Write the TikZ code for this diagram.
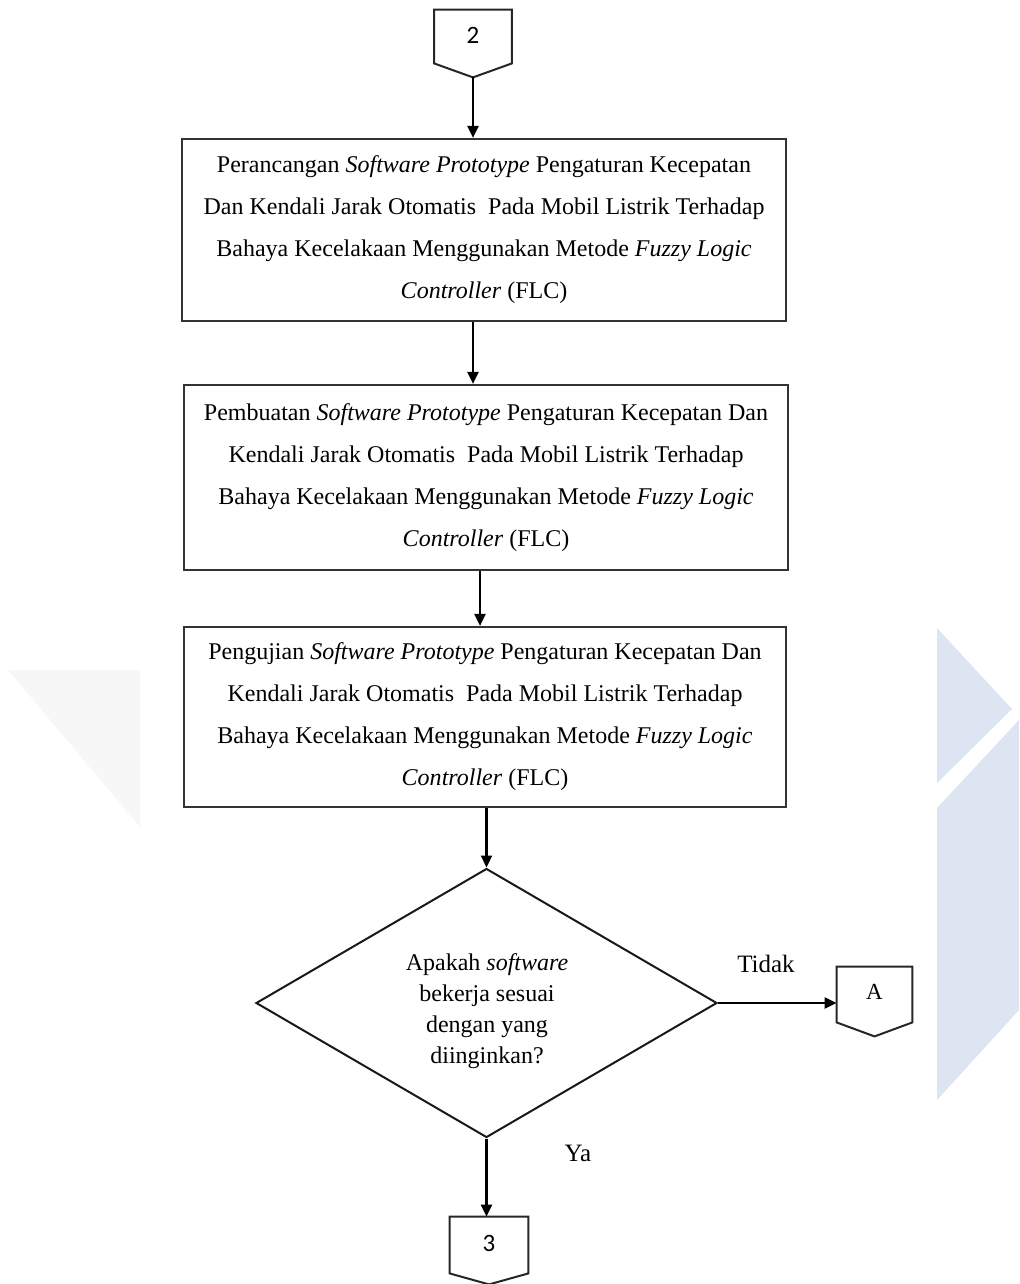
\documentclass[tikz,border=0pt]{standalone}
\usepackage{fontspec}
\setmainfont{Liberation Serif}
\newfontfamily\numfont{Carlito}
\usetikzlibrary{shapes.geometric,arrows.meta}

\begin{document}
\begin{tikzpicture}[x=0.5pt,y=-0.5pt,
  every node/.style={font=\fontsize{12}{21}\selectfont, text=black},
  procbox/.style={draw=black!80, line width=1.1pt, align=center, inner sep=0pt},
  decision/.style={diamond, aspect=1.7, draw=black!90, line width=1pt,
    inner sep=0pt, minimum width=230.5pt, minimum height=134.5pt},
  dtext/.style={align=center, inner sep=0pt, font=\fontsize{12}{15.5}\selectfont},
  offpage/.style={inner sep=0pt},
  offline/.style={draw=black!85, line width=1pt, line join=miter},
  flow/.style={draw=black, line width=1.1pt, -{Triangle[length=6pt,width=5.5pt]}},
  lbl/.style={font=\fontsize{12.5}{15}\selectfont},
  wmark/.style={fill={rgb,255:red,221;green,228;blue,242}},
  wfaint/.style={fill=black!3}
]
\useasboundingbox (0,0) rectangle (1019,1284);

% background watermark shapes
\fill[wfaint] (8,670) -- (140,670) -- (140,827) -- cycle;
\fill[wmark] (937,628) -- (1012,709) -- (937,783) -- cycle;
\fill[wmark] (937,808) -- (1019,720) -- (1019,1010) -- (937,1100) -- cycle;

% off-page connector 2
\node[offpage, minimum width=38.5pt, minimum height=26.5pt] (c2) at (473,36.5) {};
\node[font=\numfont\fontsize{12.5}{14}\selectfont] (c2txt) at (473,35) {2};
\coordinate (c2tip) at ([yshift=-7pt]c2.south);
\draw[offline] (c2.north west) -- (c2.north east) -- (c2.south east) -- (c2tip) -- (c2.south west) -- cycle;

% process boxes
\node[procbox, minimum width=302pt, minimum height=91pt] (b1) at (484,230)
  {Perancangan \textit{Software Prototype} Pengaturan Kecepatan\\
   Dan Kendali Jarak Otomatis\ \ Pada Mobil Listrik Terhadap\\
   Bahaya Kecelakaan Menggunakan Metode \textit{Fuzzy Logic}\\
   \textit{Controller} (FLC)};

\node[procbox, minimum width=302pt, minimum height=92.5pt] (b2) at (486,477.5)
  {Pembuatan \textit{Software Prototype} Pengaturan Kecepatan Dan\\
   Kendali Jarak Otomatis\ \ Pada Mobil Listrik Terhadap\\
   Bahaya Kecelakaan Menggunakan Metode \textit{Fuzzy Logic}\\
   \textit{Controller} (FLC)};

\node[procbox, minimum width=301pt, minimum height=90pt] (b3) at (485,717)
  {Pengujian \textit{Software Prototype} Pengaturan Kecepatan Dan\\
   Kendali Jarak Otomatis\ \ Pada Mobil Listrik Terhadap\\
   Bahaya Kecelakaan Menggunakan Metode \textit{Fuzzy Logic}\\
   \textit{Controller} (FLC)};

% decision
\node[decision] (d) at (486.5,1003) {};
\node[dtext] (dtxt) at (487,1011)
  {Apakah \textit{software}\\ bekerja sesuai\\ dengan yang\\ diinginkan?};

% off-page connector A
\node[offpage, minimum width=37.5pt, minimum height=27.5pt] (cA) at (874.5,994.5) {};
\node[font=\fontsize{11.5}{14}\selectfont] (cAtxt) at (874.5,992) {A};
\coordinate (cAtip) at ([yshift=-7pt]cA.south);
\draw[offline] (cA.north west) -- (cA.north east) -- (cA.south east) -- (cAtip) -- (cA.south west) -- cycle;

% off-page connector 3
\node[offpage, minimum width=39pt, minimum height=28pt] (c3) at (489,1245) {};
\node[font=\numfont\fontsize{12.5}{14}\selectfont] (c3txt) at (489,1243) {3};
\coordinate (c3tip) at ([yshift=-5.5pt]c3.south);
\draw[offline] (c3.north west) -- (c3.north east) -- (c3.south east) -- (c3tip) -- (c3.south west) -- cycle;

% connectors
\draw[flow] (c2tip) -- (c2tip |- b1.north);
\draw[flow] (b1.south -| c2tip) -- (b2.north -| c2tip);
\coordinate (m23) at (480,570);
\draw[flow] (b2.south -| m23) -- (b3.north -| m23);
\draw[flow] (b3.south -| d.north) -- (d.north);
\draw[flow] (d.east) -- (d.east -| cA.west);
\draw[flow] (d.south) -- (d.south |- c3.north);

% branch labels
\node[lbl] (tidak) at (766,964) {Tidak};
\node[lbl] (ya) at (578,1153) {Ya};
\end{tikzpicture}
\end{document}
